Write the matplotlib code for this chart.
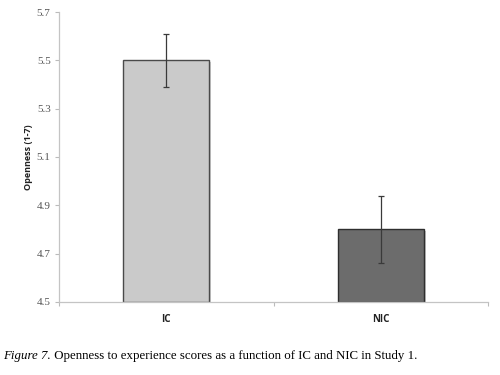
import matplotlib.pyplot as plt
import matplotlib.patheffects as pe

# datos
grupos = ["IC", "NIC"]
medias = [5.50, 4.80]
err_inf = [0.11, 0.14]
err_sup = [0.11, 0.14]
colores = ["#cacaca", "#6c6c6c"]
yticks = [4.5, 4.7, 4.9, 5.1, 5.3, 5.5, 5.7]

fig = plt.figure(figsize=(5, 3.75), dpi=100)
ax = fig.add_axes([0.118, 0.195, 0.858, 0.773])

pos = [0.5, 1.5]
barras = ax.bar(pos, [m - 4.5 for m in medias], bottom=4.5, width=0.4,
                color=colores, edgecolor=["#4a4a4a", "#2e2e2e"], linewidth=1.0, zorder=2)
for b in barras:
    b.set_path_effects([pe.SimplePatchShadow(offset=(1.5, -1.5), alpha=0.25), pe.Normal()])

ax.errorbar(pos, medias, yerr=[err_inf, err_sup], fmt="none", ecolor="#3a3a3a",
            elinewidth=0.9, capsize=2.5, capthick=0.9, zorder=3)

ax.set_xlim(0, 2)
ax.set_ylim(4.5, 5.7)
ax.set_yticks(yticks)
ax.set_yticklabels([f"{t:.1f}" for t in yticks], fontfamily="Liberation Serif",
                   fontsize=8, color="#555555")
ax.set_xticks([0, 1, 2])
ax.set_xticklabels([])
ax.set_xticks(pos, minor=True)
ax.set_xticklabels(grupos, minor=True, fontfamily="Open Sans", fontweight="bold",
                   fontsize=7, color="#222222")
ax.tick_params(axis="x", which="minor", length=0, pad=9)
ax.tick_params(axis="x", which="major", length=3, color="#bbbbbb")
ax.tick_params(axis="y", length=3, color="#bbbbbb", pad=3)

for s in ["top", "right"]:
    ax.spines[s].set_visible(False)
for s in ["left", "bottom"]:
    ax.spines[s].set_color("#c4c4c4")
    ax.spines[s].set_linewidth(0.9)

ax.set_ylabel("Openness (1-7)", fontfamily="Open Sans", fontweight="bold",
              fontsize=6.5, color="#222222", labelpad=3)

# pie de figura
t1 = fig.text(0.006, 0.043, "Figure 7.", fontfamily="Liberation Serif",
              style="italic", fontsize=9.3, va="baseline")
ax.annotate(" Openness to experience scores as a function of IC and NIC in Study 1.",
            xy=(1, 0), xycoords=t1, va="bottom", ha="left",
            fontfamily="Liberation Serif", fontsize=9.3, annotation_clip=False)

fig.savefig("out.png", dpi=100)
